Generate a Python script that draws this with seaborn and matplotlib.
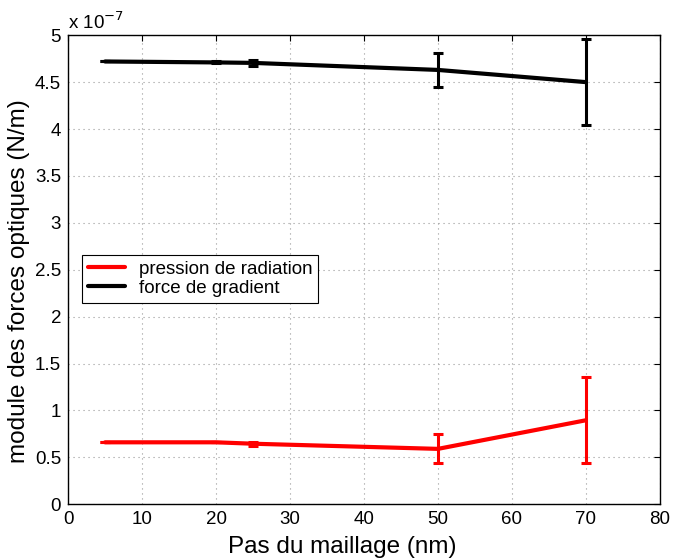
import matplotlib
matplotlib.use("Agg")
import matplotlib.pyplot as plt
import seaborn as sns
import pandas as pd
from matplotlib.lines import Line2D

pas = [5, 20, 25, 50, 70]
radiation = [0.66, 0.66, 0.645, 0.59, 0.895]
radiation_err = [0.0, 0.0, 0.02, 0.155, 0.46]
gradient = [4.72, 4.71, 4.705, 4.63, 4.50]
gradient_err = [0.0, 0.01, 0.03, 0.18, 0.455]

sns.set_style("white")
plt.rcParams['font.family'] = ['Liberation Sans', 'DejaVu Sans']
plt.rcParams['text.color'] = 'black'
plt.rcParams['axes.labelcolor'] = 'black'
plt.rcParams['xtick.color'] = 'black'
plt.rcParams['ytick.color'] = 'black'

fig = plt.figure(figsize=(6.74, 5.59), dpi=100)
ax = fig.add_axes([0.101, 0.098, 0.878, 0.839])

df = pd.DataFrame({"pas": pas * 2,
                   "val": radiation + gradient,
                   "serie": ["pression de radiation"] * 5 + ["force de gradient"] * 5})
sns.lineplot(data=df, x="pas", y="val", hue="serie",
             palette={"pression de radiation": "#ff0000", "force de gradient": "black"},
             linewidth=3, ax=ax, legend=False)
ax.errorbar(pas, radiation, yerr=radiation_err, fmt="none", ecolor="#ff0000",
            elinewidth=2.2, capsize=3.8, capthick=2.2)
ax.errorbar(pas, gradient, yerr=gradient_err, fmt="none", ecolor="black",
            elinewidth=2.2, capsize=3.8, capthick=2.2)

ax.set_xlim(0, 80)
ax.set_ylim(0, 5)
ax.set_xticks(range(0, 81, 10))
ax.set_yticks([0, 0.5, 1, 1.5, 2, 2.5, 3, 3.5, 4, 4.5, 5])
ax.set_yticklabels(["0", "0.5", "1", "1.5", "2", "2.5", "3", "3.5", "4", "4.5", "5"])
ax.grid(True, linestyle=(0, (1, 3.5)), color="#999999", linewidth=0.8)
ax.tick_params(direction="in", length=4, labelsize=13.5, top=True, right=True, width=0.8, pad=5)
for s in ax.spines.values():
    s.set_color("black")
    s.set_linewidth(1)
ax.set_xlabel("Pas du maillage (nm)", fontsize=17.5)
ax.xaxis.set_label_coords(0.463, -0.068)
ax.set_ylabel("module des forces optiques (N/m)", fontsize=17.5)
ax.yaxis.set_label_coords(-0.065, 0.475)
ax.text(0.0, 1.004, r"x 10$^{-7}$", transform=ax.transAxes, fontsize=13.5, ha="left", va="bottom")

handles = [Line2D([], [], color="#ff0000", lw=3), Line2D([], [], color="black", lw=3)]
leg = ax.legend(handles, ["pression de radiation", "force de gradient"],
                loc="lower left", bbox_to_anchor=(0.024, 0.43), fontsize=13.5,
                frameon=True, fancybox=False, framealpha=1, edgecolor="black",
                handlelength=2.0, borderpad=0.3, labelspacing=0.1, borderaxespad=0,
                handletextpad=0.7)
leg.get_frame().set_linewidth(0.8)

fig.savefig("out.png", dpi=100)
